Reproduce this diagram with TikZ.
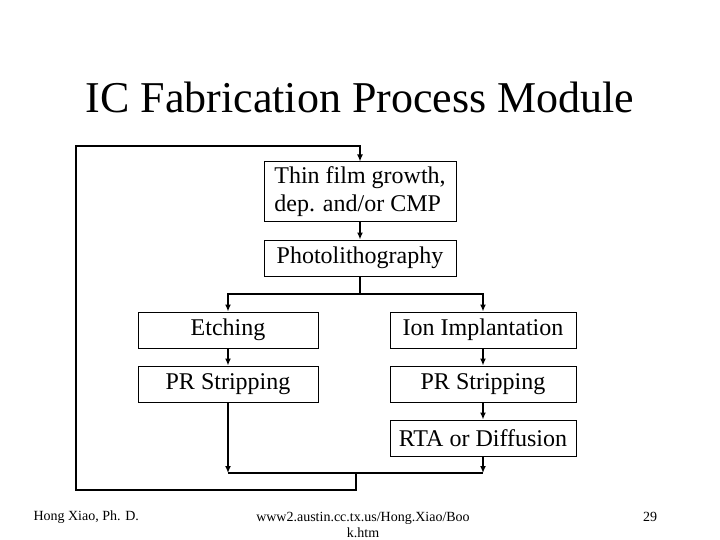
\documentclass[tikz,border=0pt]{standalone}
\usepackage{fontspec}
\setmainfont{Liberation Serif}
\usetikzlibrary{arrows.meta,positioning,calc}

\tikzset{
  stepbox/.style={draw,line width=1pt,minimum width=180pt,minimum height=36pt,font=\fontsize{24}{28}\selectfont,inner sep=0pt},
  flow/.style={line width=1.5pt,-{Latex[length=7pt,width=6pt]}},
  wire/.style={line width=1.5pt}
}

\begin{document}
\begin{tikzpicture}[x=1pt,y=-1pt]
  \useasboundingbox (0,0) rectangle (720,540);

  % Title
  \node[font=\fontsize{44}{48}\selectfont] (title) at (360,97) {IC Fabrication Process Module};

  % Process steps
  \node[stepbox,minimum width=192pt,minimum height=60pt,align=left] (film) at (360,192) {Thin film growth,\\dep. and/or CMP};
  \node[stepbox,minimum width=192pt] (photo) at (360,258) {Photolithography};
  \node[stepbox] (etch) at (228,330) {Etching};
  \node[stepbox,minimum width=186pt] (ion) at (483,330) {Ion Implantation};
  \node[stepbox] (strip1) at (228,384) {PR Stripping};
  \node[stepbox,minimum width=186pt] (strip2) at (483,384) {PR Stripping};
  \node[stepbox,minimum width=186pt] (rta) at (483,438) {RTA or Diffusion};

  % Junctions
  \coordinate (split) at (360,294);
  \coordinate (merge) at (356,473);
  \coordinate (loop) at (76,146);

  % Connectors
  \draw[flow] (film) -- (photo);
  \draw[wire] (photo) -- (split);
  \draw[flow] (split) -| (etch.north);
  \draw[flow] (split) -| (ion.north);
  \draw[flow] (etch) -- (strip1);
  \draw[flow] (ion) -- (strip2);
  \draw[flow] (strip2) -- (rta);
  \draw[flow] (strip1.south) -- (strip1.south |- merge);
  \draw[flow] (rta.south) -- (rta.south |- merge);
  \draw[wire] (strip1.south |- merge) -- (rta.south |- merge);
  \draw[flow] (merge) -- (merge |- 0,490) -| (loop) -| (film.north);

  % Footer
  \node[font=\fontsize{14}{16}\selectfont,anchor=west] (author) at (30,517) {Hong Xiao, Ph. D.};
  \node[font=\fontsize{14}{16}\selectfont,align=center] (url) at (363,525) {www2.austin.cc.tx.us/Hong.Xiao/Boo\\k.htm};
  \node[font=\fontsize{14}{16}\selectfont] (page) at (650,517) {29};
\end{tikzpicture}
\end{document}
